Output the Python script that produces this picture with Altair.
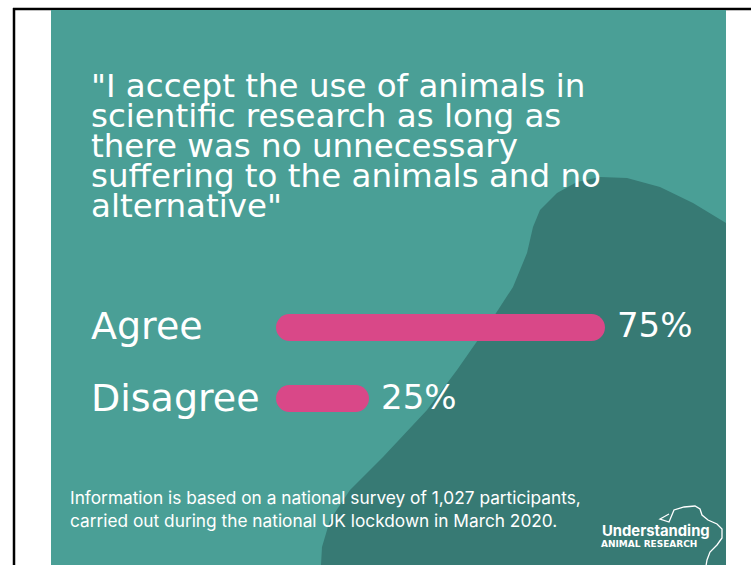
import altair as alt
import pandas as pd

# ---- data ----
categories = ["Agree", "Disagree"]
values = [75, 25]
value_labels = ["75%", "25%"]

title_lines = [
    "\"I accept the use of animals in",
    "scientific research as long as",
    "there was no unnecessary",
    "suffering to the animals and no",
    "alternative\"",
]
footer_lines = [
    "Information is based on a national survey of 1,027 participants,",
    "carried out during the national UK lockdown in March 2020.",
]
logo_main = "Understanding"
logo_sub = "ANIMAL RESEARCH"

# decorative background blob outline (pixel space)
blob_x = [321, 322, 330, 350, 383, 427, 457, 487, 513, 527, 533, 540, 557, 577,
          600, 627, 660, 693, 726, 726]
blob_y = [565, 547, 520, 490, 457, 410, 370, 327, 287, 253, 227, 210, 193, 182,
          177, 178, 187, 203, 223, 565]

# decorative logo mouse outline (pixel space)
mouse_x = [669, 660, 669, 674, 684, 695, 700, 702, 708, 717, 722, 722, 717, 710, 707, 706]
mouse_y = [514, 519, 522, 510, 507, 506, 509, 515, 520, 524, 529, 538, 545, 552, 560, 566]

W, H = 751, 565
TEAL = "#4a9f96"
DARK = "#377a74"
PINK = "#d94888"
FONT = "DejaVu Sans"
FOOT_FONT = "Inter"

df = pd.DataFrame({"category": categories, "value": values, "label": value_labels})

blob_geo = {
    "type": "Feature",
    "properties": {},
    "geometry": {
        "type": "Polygon",
        "coordinates": [[[x, y] for x, y in zip(blob_x, blob_y)] + [[blob_x[0], blob_y[0]]]],
    },
}
mouse_geo = {
    "type": "Feature",
    "properties": {},
    "geometry": {
        "type": "LineString",
        "coordinates": [[x, y] for x, y in zip(mouse_x, mouse_y)],
    },
}

base_dummy = pd.DataFrame({"d": [0]})

border_top = alt.Chart(base_dummy).mark_rule(color="black", strokeWidth=2.5).encode(
    x=alt.value(13), x2=alt.value(W), y=alt.value(9)
)
border_left = alt.Chart(base_dummy).mark_rule(color="black", strokeWidth=2.5).encode(
    x=alt.value(14), y=alt.value(8), y2=alt.value(H)
)
panel = alt.Chart(base_dummy).mark_rect(color=TEAL).encode(
    x=alt.value(51), x2=alt.value(726), y=alt.value(10), y2=alt.value(H)
)
blob = alt.Chart(alt.Data(values=[blob_geo], format=alt.DataFormat(type="json"))).mark_geoshape(
    color=DARK, strokeWidth=0
).project(type="identity", scale=1, translate=[0, 0])

mouse = alt.Chart(alt.Data(values=[mouse_geo], format=alt.DataFormat(type="json"))).mark_geoshape(
    filled=False, stroke="white", strokeWidth=1.3
).project(type="identity", scale=1, translate=[0, 0])

title = alt.Chart(base_dummy).mark_text(
    text=title_lines, align="left", baseline="alphabetic", lineHeight=30,
    fontSize=32.5, font=FONT, color="white"
).encode(x=alt.value(91), y=alt.value(97))

xscale = alt.Scale(type="pow", exponent=1.15, domain=[0, 100], range=[276, 734])
yscale = alt.Scale(domain=categories, range=[314, 412], paddingInner=0.62, paddingOuter=0)

bars = alt.Chart(df).mark_bar(color=PINK, cornerRadius=13.5).encode(
    x=alt.X("value:Q", scale=xscale, axis=None),
    y=alt.Y("category:N", scale=yscale, axis=None),
)
cat_labels = alt.Chart(df).mark_text(
    align="left", baseline="middle", fontSize=38, font=FONT, color="white", dy=1
).encode(
    x=alt.value(91),
    y=alt.Y("category:N", scale=yscale, axis=None),
    text="category:N",
)
pct_labels = alt.Chart(df).mark_text(
    align="left", baseline="middle", fontSize=34, font=FONT, color="white", dx=12
).encode(
    x=alt.X("value:Q", scale=xscale, axis=None),
    y=alt.Y("category:N", scale=yscale, axis=None),
    text="label:N",
)

footer = alt.Chart(base_dummy).mark_text(
    text=footer_lines, align="left", baseline="alphabetic", lineHeight=23,
    fontSize=17.3, font=FOOT_FONT, color="white"
).encode(x=alt.value(70), y=alt.value(504))

logo1 = alt.Chart(base_dummy).mark_text(
    text=logo_main, align="left", baseline="alphabetic", fontSize=14.8,
    fontWeight="bold", font=FOOT_FONT, color="white"
).encode(x=alt.value(602), y=alt.value(536))
logo2 = alt.Chart(base_dummy).mark_text(
    text=logo_sub, align="left", baseline="alphabetic", fontSize=9,
    fontWeight="bold", font=FONT, color="white"
).encode(x=alt.value(601), y=alt.value(547))

chart = alt.layer(
    border_top, border_left, panel, blob, title, bars, cat_labels, pct_labels,
    footer, mouse, logo1, logo2
).properties(
    width=W, height=H, padding=0, autosize=alt.AutoSizeParams(type="none"),
    background="white"
).configure_view(stroke=None, strokeWidth=0)

chart.save("out.html", embed_options={"renderer": "svg", "actions": False})
